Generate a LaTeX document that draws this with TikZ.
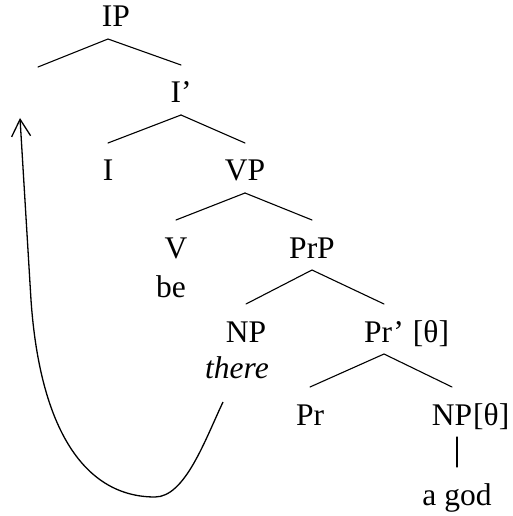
\documentclass[tikz,border=0pt]{standalone}
\usepackage{fontspec}
\setmainfont{Liberation Serif}
\usetikzlibrary{arrows.meta, positioning}
\tikzset{
  every picture/.style={line width=1.1bp},
  cat/.style={font=\fontsize{31.5bp}{36bp}\selectfont, inner sep=0pt, text height=26bp, text depth=0pt, outer ysep=12bp, anchor=base},
  lex/.style={cat},
  branch/.style={draw=black, line cap=round},
  move/.style={-{Straight Barb[length=17bp, width=19bp]}, draw=black, line width=1.3bp},
}

\begin{document}
\begin{tikzpicture}[x=1bp, y=-1bp]
  \useasboundingbox (0,0) rectangle (513,516);
  % categories, placed on their baselines
  \node[cat] (ip) at (116,27) {IP};
  \coordinate (spec) at (38,67);
  \node[cat] (ibar) at (181,103) {I’};
  \node[cat] (i) at (108,181) {I};
  \node[cat] (vp) at (245,181) {VP};
  \node[cat] (v) at (176,258) {V};
  \node[lex] (be) at (171,297) {be};
  \node[cat] (prp) at (312,258) {PrP};
  \node[cat] (np) at (246,342) {NP};
  \node[lex, font=\fontsize{31.5bp}{36bp}\selectfont\itshape] (there) at (237,378) {there};
  \node[cat] (prbar) at (384,342) {Pr’};
  \node[cat, right=8bp of prbar] (prtheta) {[θ]};
  \node[cat] (pr) at (310,425) {Pr};
  \node[cat] (npt) at (452,425) {NP};
  \node[cat, right=0pt of npt] (nptheta) {[θ]};
  \node[lex] (agod) at (457,505) {a god};
  % branches
  \draw[branch] (spec) -- ([xshift=-8bp]ip.south) -- (ibar.north);
  \foreach \a/\b in {ibar/i, ibar/vp, vp/v, vp/prp, prp/np, prp/prbar, prbar/pr, prbar/npt}
    \draw[branch] (\a.south) -- (\b.north);
  \draw[branch] (agod.north) -- (agod.north |- npt.south);
  % movement of there
  \coordinate (trace) at (20,118);
  \draw[move] ([shift={(-14bp,-12bp)}]there.south) .. controls (205,440) and (185,497) .. (155,497)
    .. controls (85,497) and (40,430) .. (31,300) -- (trace);
\end{tikzpicture}
\end{document}
